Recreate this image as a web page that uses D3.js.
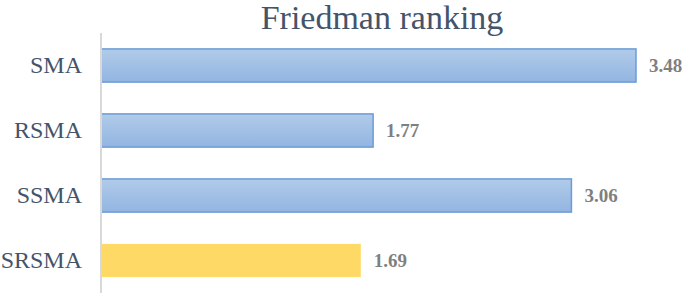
<!DOCTYPE html>
<html><head><meta charset="utf-8">
<script src="https://cdn.jsdelivr.net/npm/d3@7"></script>
<style>body{margin:0;background:#fff}svg{display:block}</style>
</head><body>
<svg id="c" width="685" height="293"></svg>
<script>
const categories = ["SMA", "RSMA", "SSMA", "SRSMA"];
const values = [3.48, 1.77, 3.06, 1.69];
const highlight = ["SRSMA"];
const title = "Friedman ranking";

const svg = d3.select("#c");
const x0 = 101;
const x = d3.scaleLinear().domain([0, 3.48]).range([x0, 636]);
const y = d3.scaleBand().domain(categories).range([33, 293]).paddingInner(0.49).paddingOuter(0.245);

const defs = svg.append("defs");
const g = defs.append("linearGradient").attr("id","bg").attr("x1",0).attr("y1",0).attr("x2",0).attr("y2",1);
g.append("stop").attr("offset","0%").attr("stop-color","#b1cbe9");
g.append("stop").attr("offset","100%").attr("stop-color","#92b5e1");

svg.append("text").attr("x", 382).attr("y", 29).attr("text-anchor","middle")
  .attr("font-family","Liberation Serif, serif").attr("font-size",34).attr("fill","#44546a").text(title);

const data = categories.map((c,i)=>({c, v: values[i]}));

svg.selectAll("rect.bar").data(data).join("rect").attr("class","bar")
  .attr("x", x(0)).attr("y", d=>y(d.c)).attr("width", d=>x(d.v)-x(0)).attr("height", y.bandwidth())
  .attr("fill", d=>highlight.includes(d.c) ? "#ffd966" : "url(#bg)")
  .attr("stroke", d=>highlight.includes(d.c) ? "none" : "#6b9cd5").attr("stroke-width", 1.5);

svg.append("line").attr("x1",x0).attr("x2",x0).attr("y1",33).attr("y2",293)
  .attr("stroke","#d9d9d9").attr("stroke-width",2);

svg.selectAll("text.cat").data(data).join("text").attr("class","cat")
  .attr("x", 82).attr("y", d=>y(d.c)+y.bandwidth()/2).attr("dy","0.33em").attr("text-anchor","end")
  .attr("font-family","Liberation Serif, serif").attr("font-size",24).attr("fill","#44546a").text(d=>d.c);

svg.selectAll("text.val").data(data).join("text").attr("class","val")
  .attr("x", d=>x(d.v)+13).attr("y", d=>y(d.c)+y.bandwidth()/2).attr("dy","0.33em")
  .attr("font-family","Liberation Serif, serif").attr("font-size",19).attr("font-weight","bold").attr("fill","#7f7f7f")
  .text(d=>d3.format(".2f")(d.v));
</script>
</body></html>
